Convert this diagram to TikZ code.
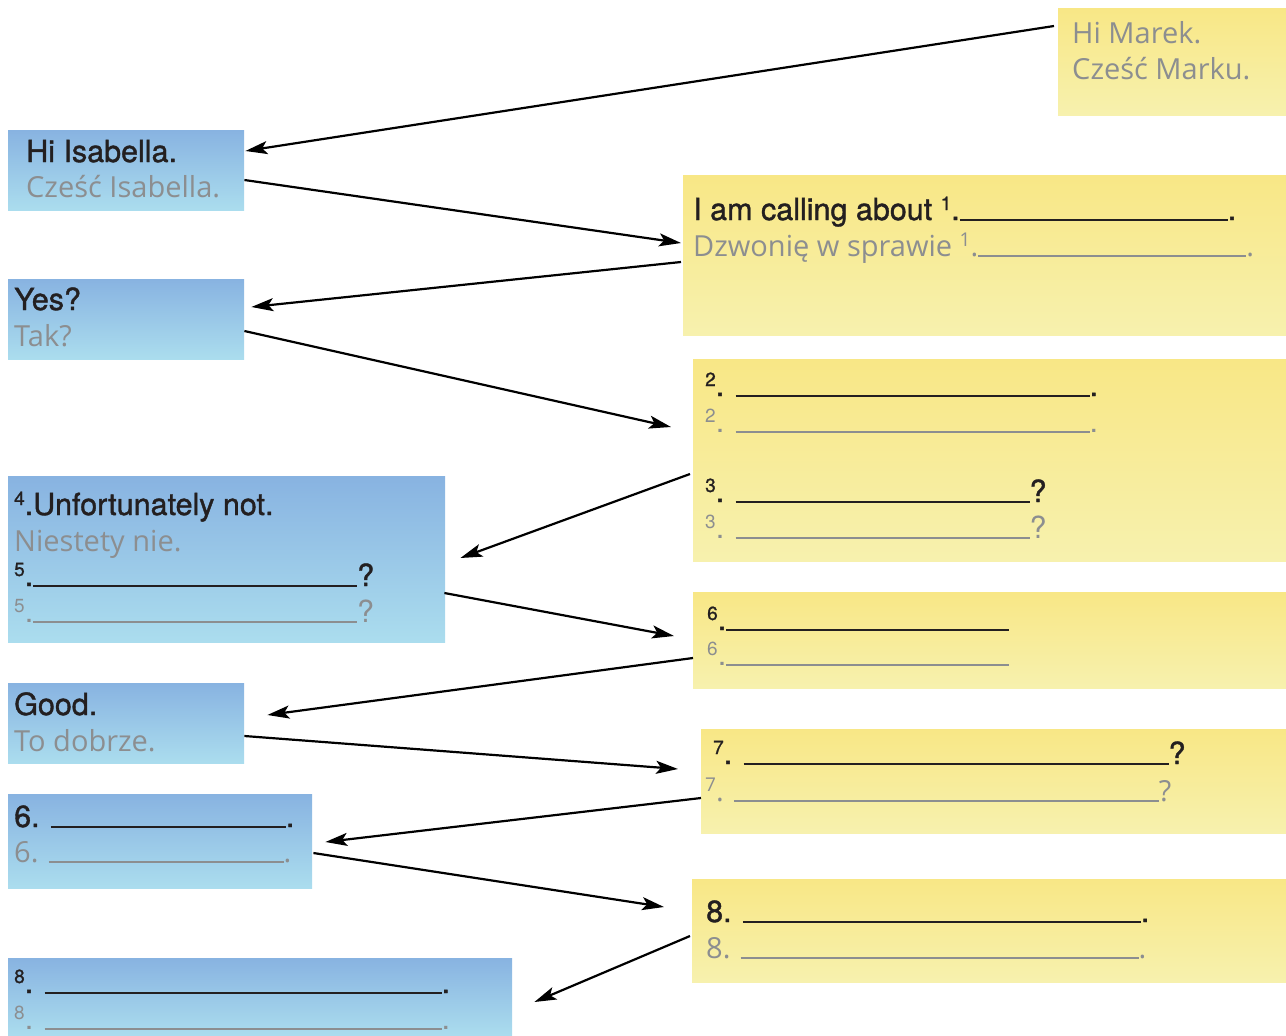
\documentclass[tikz,border=0pt]{standalone}
\usepackage{fontspec}
\setmainfont{TeX Gyre Heros}
\newfontfamily\blkfont[FakeBold=1.2]{TeX Gyre Heros}
\newfontfamily\hvfont{TeX Gyre Heros}
\newfontfamily\grfont{Open Sans}
\usetikzlibrary{arrows.meta}
\definecolor{blueTop}{HTML}{88B3E1}
\definecolor{blueMid}{HTML}{A8DAEE}
\definecolor{blueBot}{HTML}{ABDDEE}
\definecolor{yelTop}{HTML}{F8E786}
\definecolor{yelMid}{HTML}{F7EEA4}
\definecolor{yelBot}{HTML}{F7F1AE}
\definecolor{txtblack}{HTML}{231F20}
\definecolor{txtgray}{HTML}{8C8E90}
\newcommand\supn[1]{\raisebox{10pt}{\fontsize{19}{19}\selectfont #1}}
\newcommand\blnk[1]{\rule[-1pt]{#1pt}{2pt}}
\tikzset{
  bluebox/.style={top color=blueTop, middle color=blueMid, bottom color=blueBot, draw=none, inner sep=0pt, anchor=north west},
  yelbox/.style={top color=yelTop, middle color=yelMid, bottom color=yelBot, draw=none, inner sep=0pt, anchor=north west},
  bt/.style={inner sep=0pt, anchor=base west, text=txtblack, font=\blkfont\fontsize{30.5}{34}\selectfont},
  gt/.style={inner sep=0pt, anchor=base west, text=txtgray, font=\grfont\fontsize{29}{34}\selectfont},
  ght/.style={inner sep=0pt, anchor=base west, text=txtgray, font=\hvfont\fontsize{30.5}{34}\selectfont},
  conn/.style={line width=2.2pt, draw=black, -{Stealth[length=22pt,width=13pt,inset=5pt]}},
}
\begin{document}
\begin{tikzpicture}[x=1pt,y=-1pt]
\useasboundingbox (0,0) rectangle (1286,1036);
% boxes
\node[yelbox, minimum width=228, minimum height=107] (marek) at (1058,8) {};
\node[bluebox, minimum width=236, minimum height=80] (isab) at (8,130) {};
\node[yelbox, minimum width=603, minimum height=160] (call) at (683,175) {};
\node[bluebox, minimum width=236, minimum height=80] (yes) at (8,279) {};
\node[yelbox, minimum width=593, minimum height=202] (b23) at (693,359) {};
\node[bluebox, minimum width=437, minimum height=166] (unf) at (8,476) {};
\node[yelbox, minimum width=593, minimum height=96] (ysix) at (693,592) {};
\node[bluebox, minimum width=236, minimum height=80] (good) at (8,683) {};
\node[yelbox, minimum width=585, minimum height=104] (yseven) at (701,729) {};
\node[bluebox, minimum width=304, minimum height=94] (bsix) at (8,794) {};
\node[yelbox, minimum width=594, minimum height=103] (yeight) at (692,879) {};
\node[bluebox, minimum width=504, minimum height=78] (beight) at (8,958) {};
% texts
\node[gt] (t1) at (1072,43) {Hi Marek.};
\node[gt] (t2) at (1072,79) {Cześć Marku.};
\node[bt] (t3) at (26,162) {Hi Isabella.};
\node[gt] (t4) at (26,197) {Cześć Isabella.};
\node[bt] (t5) at (693,220) {I am calling about \supn{1}.\blnk{268}.};
\node[gt] (t6) at (693,256) {Dzwonię w sprawie \supn{1}.\blnk{268}.};
\node[bt] (t7) at (14,310) {Yes?};
\node[gt] (t8) at (14,346) {Tak?};
\node[bt] (t9) at (705,396) {\supn{2}. \blnk{354}.};
\node[ght] (t10) at (705,432) {\supn{2}. \blnk{354}.};
\node[bt] (t11) at (705,502) {\supn{3}. \blnk{294}?};
\node[ght] (t12) at (705,538) {\supn{3}. \blnk{294}?};
\node[bt] (t13) at (14,515) {\supn{4}.Unfortunately not.};
\node[gt] (t14) at (14,551) {Niestety nie.};
\node[bt] (t15) at (14,586) {\supn{5}.\blnk{324}?};
\node[ght] (t16) at (14,622) {\supn{5}.\blnk{324}?};
\node[bt] (t17) at (707,630) {\supn{6}.\blnk{283}};
\node[ght] (t18) at (707,665) {\supn{6}.\blnk{283}};
\node[bt] (t19) at (14,715) {Good.};
\node[gt] (t20) at (14,751) {To dobrze.};
\node[bt] (t21) at (713,764) {\supn{7}. \blnk{425}?};
\node[gt] (t22) at (705,801) {\supn{7}. \blnk{425}?};
\node[bt] (t23) at (14,827) {6. \blnk{235}.};
\node[gt] (t24) at (14,862) {6. \blnk{235}.};
\node[bt] (t25) at (706,922) {8. \blnk{398}.};
\node[gt] (t26) at (706,958) {8. \blnk{398}.};
\node[bt] (t27) at (14,993) {\supn{8}. \blnk{397}.};
\node[ght] (t28) at (14,1029) {\supn{8}. \blnk{397}.};
% connectors
\draw[conn] ([shift={(-4,18)}]marek.north west) -- ([shift={(1,21)}]isab.north east);
\draw[conn] ([shift={(0,50)}]isab.north east) -- ([shift={(-2,68)}]call.north west);
\draw[conn] ([shift={(-2,87)}]call.north west) -- ([shift={(7,28)}]yes.north east);
\draw[conn] ([shift={(0,52)}]yes.north east) -- ([shift={(-22,68)}]b23.north west);
\draw[conn] ([shift={(-3,115)}]b23.north west) -- ([shift={(15,82)}]unf.north east);
\draw[conn] ([shift={(-1,117)}]unf.north east) -- ([shift={(-19,44)}]ysix.north west);
\draw[conn] ([shift={(0,66)}]ysix.north west) -- ([shift={(23,32)}]good.north east);
\draw[conn] ([shift={(0,53)}]good.north east) -- ([shift={(-23,40)}]yseven.north west);
\draw[conn] ([shift={(0,69)}]yseven.north west) -- ([shift={(13,48)}]bsix.north east);
\draw[conn] ([shift={(1,59)}]bsix.north east) -- ([shift={(-28,28)}]yeight.north west);
\draw[conn] ([shift={(-2,57)}]yeight.north west) -- ([shift={(22,44)}]beight.north east);
\end{tikzpicture}
\end{document}
